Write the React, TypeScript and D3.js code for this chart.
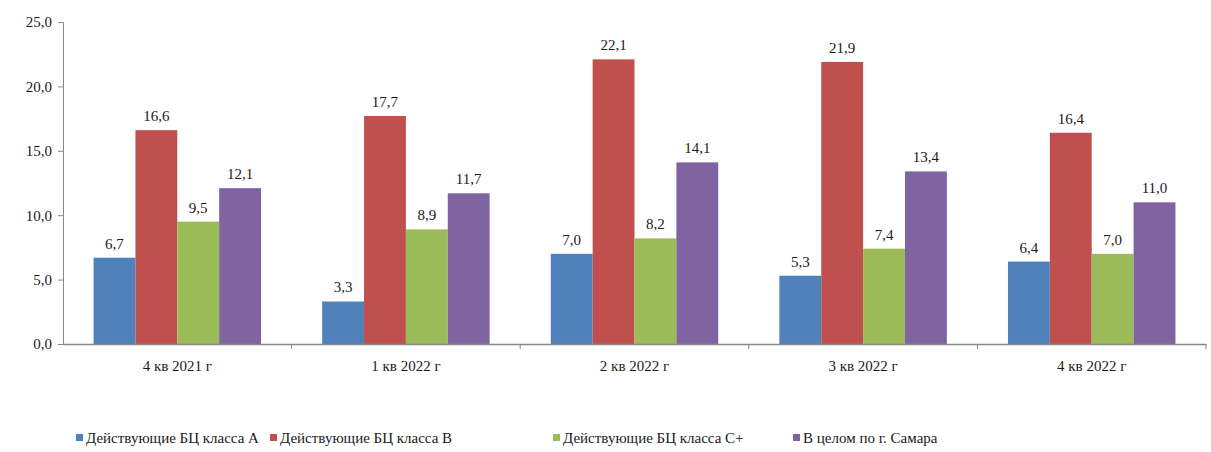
import { useRef, useEffect } from 'react';
import * as d3 from 'd3';

const categories = ['4 кв 2021 г', '1 кв 2022 г', '2 кв 2022 г', '3 кв 2022 г', '4 кв 2022 г'];
const seriesNames = [
  'Действующие БЦ класса А',
  'Действующие БЦ класса В',
  'Действующие БЦ класса С+',
  'В целом по г. Самара',
];
const classA = [6.7, 3.3, 7.0, 5.3, 6.4];
const classB = [16.6, 17.7, 22.1, 21.9, 16.4];
const classC = [9.5, 8.9, 8.2, 7.4, 7.0];
const total = [12.1, 11.7, 14.1, 13.4, 11.0];
const yTicks = [0, 5, 10, 15, 20, 25];
const colors = ['#4F81BD', '#C0504D', '#9BBB59', '#8064A2'];
const legendX = [76, 270, 553, 793];

const W = 1211;
const H = 452;
const FONT = '"Liberation Serif", "Times New Roman", serif';
const fmt = (v: number) => v.toFixed(1).replace('.', ',');

export default function App() {
  const svgRef = useRef<SVGSVGElement>(null);

  useEffect(() => {
    if (!svgRef.current) return;
    const svg = d3.select(svgRef.current);
    svg.selectAll('*').remove();

    const left = 63, right = 1206, top = 22, bottom = 344;
    const values = [classA, classB, classC, total];

    const x0 = d3.scaleBand().domain(categories).range([left, right]).padding(0);
    const x1 = d3.scaleBand<number>().domain([0, 1, 2, 3]).range([0, x0.bandwidth()]).paddingInner(0).paddingOuter(0.73);
    const y = d3.scaleLinear().domain([0, 25]).range([bottom, top]);

    // bars + value labels
    categories.forEach((c, ci) => {
      const g = svg.append('g').attr('transform', `translate(${x0(c)},0)`);
      values.forEach((arr, si) => {
        const v = arr[ci];
        g.append('rect')
          .attr('x', x1(si)!)
          .attr('width', x1.bandwidth())
          .attr('y', y(v))
          .attr('height', bottom - y(v))
          .attr('fill', colors[si]);
        g.append('text')
          .attr('x', x1(si)! + x1.bandwidth() / 2)
          .attr('y', y(v) - 9)
          .attr('text-anchor', 'middle')
          .style('font-family', FONT)
          .style('font-size', '15px')
          .attr('fill', '#1a1a1a')
          .text(fmt(v));
      });
    });

    // y axis
    const yAxis = svg.append('g').attr('transform', `translate(${left},0)`);
    yAxis.call(d3.axisLeft(y).tickValues(yTicks).tickSize(5).tickPadding(6).tickFormat(d => fmt(d as number)));
    yAxis.select('.domain').attr('stroke', '#888');
    yAxis.selectAll('.tick line').attr('stroke', '#888');
    yAxis.selectAll('text').style('font-family', FONT).style('font-size', '15px').attr('fill', '#1a1a1a');

    // x axis
    const xAxis = svg.append('g').attr('transform', `translate(0,${bottom})`);
    xAxis.call(d3.axisBottom(x0).tickSize(0).tickPadding(16));
    xAxis.select('.domain').attr('stroke', '#888').attr('stroke-width', 1.5);
    xAxis.selectAll('text').style('font-family', FONT).style('font-size', '15px').attr('fill', '#1a1a1a');
    xAxis.selectAll('.boundary')
      .data(categories.slice(1).concat(['__end']))
      .join('line')
      .attr('x1', d => (d === '__end' ? right : x0(d)!))
      .attr('x2', d => (d === '__end' ? right : x0(d)!))
      .attr('y1', 0)
      .attr('y2', 5)
      .attr('stroke', '#888');

    // legend
    seriesNames.forEach((name, i) => {
      const lg = svg.append('g').attr('transform', `translate(${legendX[i]},438)`);
      lg.append('rect').attr('x', 0).attr('y', -4).attr('width', 7).attr('height', 7).attr('fill', colors[i]);
      lg.append('text')
        .attr('x', 10)
        .attr('y', 5)
        .style('font-family', FONT)
        .style('font-size', '15px')
        .attr('fill', '#1a1a1a')
        .text(name);
    });
  }, []);

  return (
    <svg
      ref={svgRef}
      width={W}
      height={H}
      style={{ position: 'absolute', left: 0, top: 0, background: '#fff' }}
    />
  );
}
